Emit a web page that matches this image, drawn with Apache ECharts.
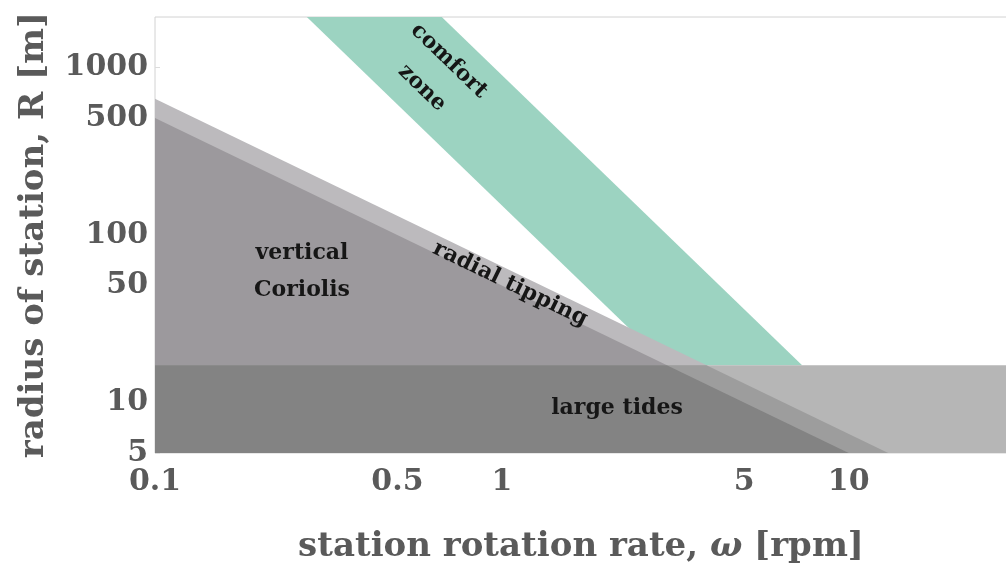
<!DOCTYPE html>
<html>
<head>
<meta charset="utf-8">
<script src="https://cdn.jsdelivr.net/npm/echarts@6/dist/echarts.min.js"></script>
<style>
html,body{margin:0;padding:0;background:#fff;}
#chart{width:1006px;height:563px;}
</style>
</head>
<body>
<div id="chart"></div>
<script>
// ---- axis ranges and tick labels ----
const xRange = [0.1, 28.6];
const yRange = [5, 2000];
const xTicks = [0.1, 0.5, 1, 5, 10];
const yTicks = [5, 10, 50, 100, 500, 1000];

// ---- regions (vertices: omega [rpm], R [m]) ----
const comfortOmega = [0.274, 0.671, 7.34, 3.0];
const comfortR     = [2000, 2000, 16.7, 16.7];

const tippingOmega = [0.1, 13, 0.1];
const tippingR     = [650, 5, 5];

const coriolisOmega = [0.1, 10, 0.1];
const coriolisR     = [500, 5, 5];

const tidesOmega = [0.1, 28.6, 28.6, 0.1];
const tidesR     = [5, 5, 16.7, 16.7];

// overlaps inside the tides band
const tidesTippingOmega = [0.1, 13, 3.89, 0.1];
const tidesTippingR     = [5, 5, 16.7, 16.7];

const tidesCoriolisOmega = [0.1, 10, 2.99, 0.1];
const tidesCoriolisR     = [5, 5, 16.7, 16.7];

function polySeries(name, xs, ys, color, z) {
  return {
    type: 'custom',
    name: name,
    coordinateSystem: 'cartesian2d',
    z: z,
    silent: true,
    animation: false,
    clip: true,
    data: xs.map((x, i) => [x, ys[i]]),
    renderItem: function (params, api) {
      if (params.dataIndex !== 0) return;
      const pts = xs.map((x, i) => api.coord([x, ys[i]]));
      return { type: 'polygon', shape: { points: pts }, style: { fill: color } };
    }
  };
}

const chart = echarts.init(document.getElementById('chart'), null, { renderer: 'canvas' });

const fmt = v => String(+Number(v).toPrecision(6));
const tickFont = { fontFamily: 'DejaVu Serif', fontWeight: 'bold', fontSize: 30, color: '#5a5a5a' };
const annFont = { fontFamily: 'DejaVu Serif', fontWeight: 'bold', fontSize: 22, fill: '#161616' };

const option = {
  backgroundColor: '#ffffff',
  animation: false,
  grid: {
    left: 155, top: 17, right: -1, bottom: 110,
    outerBoundsMode: 'none',
    containLabel: false,
    show: true, borderColor: '#d2d2d2', borderWidth: 1, backgroundColor: 'transparent'
  },
  xAxis: {
    type: 'log', logBase: 10, min: xRange[0], max: xRange[1],
    name: 'station rotation rate, {i|ω} [rpm]',
    nameLocation: 'middle', nameGap: 77,
    nameTextStyle: {
      fontFamily: 'DejaVu Serif', fontWeight: 'bold', fontSize: 34, color: '#5a5a5a',
      rich: { i: { fontFamily: 'DejaVu Serif', fontStyle: 'italic', fontWeight: 'bold', fontSize: 34, color: '#5a5a5a' } }
    },
    axisLine: { show: false },
    axisTick: { show: false },
    splitLine: { show: false },
    minorTick: { show: false },
    axisLabel: Object.assign({ customValues: xTicks, formatter: fmt, margin: 14 }, tickFont)
  },
  yAxis: {
    type: 'log', logBase: 10, min: yRange[0], max: yRange[1],
    name: 'radius of station, R [m]',
    nameLocation: 'middle', nameGap: 104,
    nameTextStyle: { fontFamily: 'DejaVu Serif', fontWeight: 'bold', fontSize: 34, color: '#5a5a5a' },
    axisLine: { show: false },
    axisTick: { show: true, inside: true, length: 5, lineStyle: { color: '#dcdcdc' }, customValues: yTicks },
    splitLine: { show: false },
    axisLabel: Object.assign({ customValues: yTicks, formatter: fmt, margin: 7 }, tickFont)
  },
  series: [
    polySeries('comfort zone', comfortOmega, comfortR, '#9cd3c1', 2),
    polySeries('radial tipping', tippingOmega, tippingR, '#bcbabd', 3),
    polySeries('vertical Coriolis', coriolisOmega, coriolisR, '#9c999d', 4),
    polySeries('large tides', tidesOmega, tidesR, '#b6b6b6', 5),
    polySeries('tides+tipping', tidesTippingOmega, tidesTippingR, '#9d9d9d', 6),
    polySeries('tides+Coriolis', tidesCoriolisOmega, tidesCoriolisR, '#838383', 7)
  ],
  graphic: [
    { type: 'text', x: 302, y: 253, z: 100, style: Object.assign({ text: 'vertical', align: 'center', verticalAlign: 'middle' }, annFont) },
    { type: 'text', x: 302, y: 290, z: 100, style: Object.assign({ text: 'Coriolis', align: 'center', verticalAlign: 'middle' }, annFont) },
    { type: 'text', x: 617, y: 408, z: 100, style: Object.assign({ text: 'large tides', align: 'center', verticalAlign: 'middle' }, annFont) },
    { type: 'text', x: 510, y: 284, z: 100, rotation: -25.8 * Math.PI / 180, style: Object.assign({ text: 'radial tipping', align: 'center', verticalAlign: 'middle' }, annFont) },
    { type: 'text', x: 449, y: 61, z: 100, rotation: -44 * Math.PI / 180, style: Object.assign({ text: 'comfort', align: 'center', verticalAlign: 'middle' }, annFont) },
    { type: 'text', x: 422, y: 88, z: 100, rotation: -44 * Math.PI / 180, style: Object.assign({ text: 'zone', align: 'center', verticalAlign: 'middle' }, annFont) }
  ]
};

chart.setOption(option);
</script>
</body>
</html>
